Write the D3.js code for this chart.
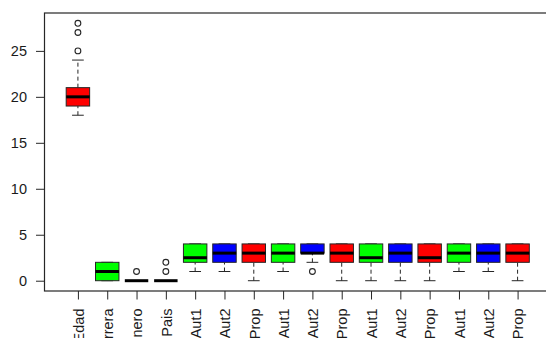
<!DOCTYPE html>
<html>
<head>
<meta charset="utf-8">
<script src="https://cdn.jsdelivr.net/npm/d3@7"></script>
<style>
  html, body { margin: 0; padding: 0; background: #fff; overflow: hidden; }
  svg { display: block; }
  text { font-family: "Liberation Sans", Arial, sans-serif; font-size: 14.5px; fill: #1a1a1a; }
</style>
</head>
<body>
<svg id="chart" width="546" height="338"></svg>
<script>
// Variables on the x axis
const categories = ["Edad", "Carrera", "Genero", "Pais",
  "Aut1", "Aut2", "Prop", "Aut1", "Aut2", "Prop",
  "Aut1", "Aut2", "Prop", "Aut1", "Aut2", "Prop"];

// Five-number summaries per variable
const whiskerLow  = [18, 0, 0, 0, 1, 1, 0, 1, 2, 0, 0, 0, 0, 1, 1, 0];
const q1          = [19, 0, 0, 0, 2, 2, 2, 2, 3, 2, 2, 2, 2, 2, 2, 2];
const medians     = [20, 1, 0, 0, 2.5, 3, 3, 3, 3, 3, 2.5, 3, 2.5, 3, 3, 3];
const q3          = [21, 2, 0, 0, 4, 4, 4, 4, 4, 4, 4, 4, 4, 4, 4, 4];
const whiskerHigh = [24, 2, 0, 0, 4, 4, 4, 4, 4, 4, 4, 4, 4, 4, 4, 4];
// Points beyond the whiskers
const outliers    = [[25, 27, 28], [], [1], [1, 2], [], [], [], [], [1], [], [], [], [], [], [], []];

// Fill colours, recycled along the boxes
const palette = ["#ff0000", "#00ff00", "#0000ff"];
const yTicks = [0, 5, 10, 15, 20, 25];

const svg = d3.select("#chart");
const plot = { left: 44.5, top: 13, right: 551, bottom: 291 };
const ink = "#262626";

const x = d3.scaleLinear().domain([-0.14, categories.length + 1.14])
  .range([plot.left, plot.right]);
const y = d3.scaleLinear().domain([-1.12, 29.12]).range([plot.bottom, plot.top]);

const unit = x(2) - x(1);
const boxW = unit * 0.8;
const capW = boxW * 0.5;

const boxes = categories.map((c, i) => ({
  name: c, pos: i + 1,
  lo: whiskerLow[i], q1: q1[i], med: medians[i], q3: q3[i], hi: whiskerHigh[i],
  out: outliers[i], fill: palette[i % palette.length]
}));

const g = svg.append("g");

const b = g.selectAll("g.box").data(boxes).join("g").attr("class", "box");

// dashed whiskers
b.append("line")
  .attr("x1", d => x(d.pos)).attr("x2", d => x(d.pos))
  .attr("y1", d => y(d.lo)).attr("y2", d => y(d.q1))
  .attr("stroke", ink).attr("stroke-dasharray", "4,3");
b.append("line")
  .attr("x1", d => x(d.pos)).attr("x2", d => x(d.pos))
  .attr("y1", d => y(d.q3)).attr("y2", d => y(d.hi))
  .attr("stroke", ink).attr("stroke-dasharray", "4,3");
// staples
b.append("line")
  .attr("x1", d => x(d.pos) - capW / 2).attr("x2", d => x(d.pos) + capW / 2)
  .attr("y1", d => y(d.lo)).attr("y2", d => y(d.lo))
  .attr("stroke", ink);
b.append("line")
  .attr("x1", d => x(d.pos) - capW / 2).attr("x2", d => x(d.pos) + capW / 2)
  .attr("y1", d => y(d.hi)).attr("y2", d => y(d.hi))
  .attr("stroke", ink);
// boxes
b.append("rect")
  .attr("x", d => x(d.pos) - boxW / 2).attr("width", boxW)
  .attr("y", d => y(d.q3)).attr("height", d => y(d.q1) - y(d.q3))
  .attr("fill", d => d.fill).attr("stroke", ink).attr("stroke-width", 1);
// medians
b.append("line")
  .attr("x1", d => x(d.pos) - boxW / 2).attr("x2", d => x(d.pos) + boxW / 2)
  .attr("y1", d => y(d.med)).attr("y2", d => y(d.med))
  .attr("stroke", "#000").attr("stroke-width", 3);
// outliers
b.selectAll("circle").data(d => d.out.map(v => ({ pos: d.pos, v }))).join("circle")
  .attr("cx", d => x(d.pos)).attr("cy", d => y(d.v)).attr("r", 2.9)
  .attr("fill", "none").attr("stroke", ink).attr("stroke-width", 1.1);

// frame
svg.append("rect")
  .attr("x", plot.left).attr("y", plot.top)
  .attr("width", plot.right - plot.left).attr("height", plot.bottom - plot.top)
  .attr("fill", "none").attr("stroke", ink).attr("stroke-width", 1.2);

// y axis
const yAxis = svg.append("g").attr("transform", `translate(${plot.left},0)`)
  .call(d3.axisLeft(y).tickValues(yTicks).tickSize(8.5).tickPadding(9).tickFormat(d3.format("d")));
yAxis.select(".domain").attr("d", `M0,${y(0)}V${y(25)}`).attr("stroke", ink);
yAxis.selectAll(".tick line").attr("stroke", ink);
yAxis.selectAll("text").attr("font-size", "14.5px").attr("dy", "0.35em").style("fill", "#1a1a1a");

// x axis with vertical labels
const xAxis = svg.append("g").attr("transform", `translate(0,${plot.bottom})`)
  .call(d3.axisBottom(x).tickValues(boxes.map(d => d.pos)).tickSize(8.5)
    .tickFormat(v => categories[v - 1]));
xAxis.select(".domain").remove();
xAxis.selectAll(".tick line").attr("stroke", ink);
xAxis.selectAll(".tick text")
  .attr("font-size", "14.5px").style("fill", "#1a1a1a")
  .attr("transform", "rotate(-90)")
  .attr("x", -17.5).attr("y", 0).attr("dy", "0.36em")
  .attr("text-anchor", "end");
</script>
</body>
</html>
